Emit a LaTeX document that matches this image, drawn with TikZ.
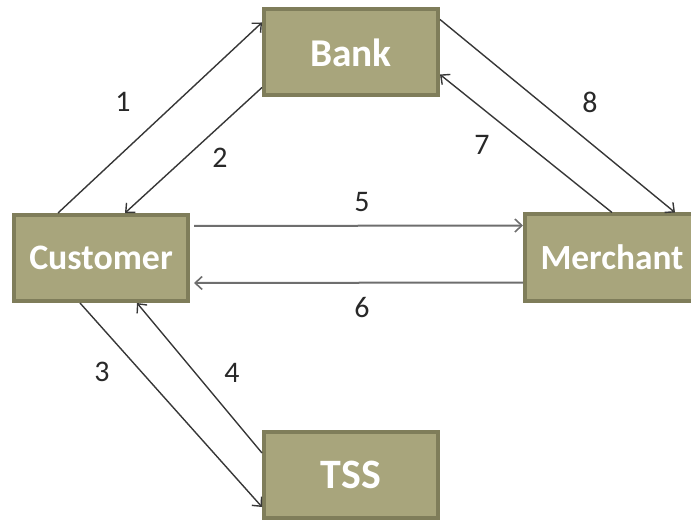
\documentclass[tikz,border=0pt]{standalone}
\usepackage{fontspec}
\setmainfont{Carlito}
\usetikzlibrary{arrows.meta}
\definecolor{boxfill}{RGB}{168,165,124}
\definecolor{boxline}{RGB}{127,125,90}
\definecolor{arrowc}{RGB}{55,55,55}
\definecolor{arrowh}{RGB}{110,110,110}
\definecolor{labc}{RGB}{40,40,40}
\tikzset{
  box/.style={draw=boxline, fill=boxfill, line width=4bp, minimum width=174bp, minimum height=86bp, inner sep=0pt, text=white, font=\bfseries},
  conn/.style={draw=arrowc, line width=1.4bp, -{Straight Barb[length=7bp,width=13bp,line width=1.4bp]}},
  hconn/.style={draw=arrowh, line width=2bp, -{Straight Barb[length=7bp,width=13bp,line width=1.6bp]}},
  lab/.style={text=labc, font=\fontsize{30}{30}\selectfont, inner sep=0pt}
}
\begin{document}
\begin{tikzpicture}[x=1bp,y=-1bp]
\useasboundingbox (0,0) rectangle (691,521);
\clip (0,0) rectangle (691,521);
\node[box, font=\bfseries\fontsize{39.5}{39.5}\selectfont] (bank) at (351,52.5) {Bank};
\node[box, font=\bfseries\fontsize{36}{36}\selectfont] (cust) at (101,258) {Customer};
\node[box, font=\bfseries\fontsize{35.5}{35.5}\selectfont] (merch) at (612,257.5) {Merchant};
\node[box, font=\bfseries\fontsize{42}{42}\selectfont] (tss) at (351,475) {TSS};
% arrows
\draw[conn] ([xshift=46bp]cust.north west) -- ([yshift=-15bp]bank.north west);
\draw[conn] ([yshift=10bp]bank.south west) -- ([xshift=113bp]cust.north west);
\draw[conn] ([yshift=-12bp]bank.north east) -- ([xshift=152bp]merch.north west);
\draw[conn] (merch.north) -- ([yshift=23bp]bank.south east);
\draw[hconn] ([xshift=4bp,yshift=-13bp]cust.north east) -- ([yshift=-13bp]merch.north west);
\draw[hconn] ([yshift=20bp]merch.south west) -- ([xshift=4bp,yshift=20bp]cust.south east);
\draw[conn] ([xshift=68bp]cust.south west) -- ([yshift=13bp]tss.south west);
\draw[conn] ([yshift=-23bp]tss.north west) -- ([xshift=125bp]cust.south west);
% labels
\node[lab] (l1) at (123,102) {1};
\node[lab] (l2) at (220,158) {2};
\node[lab] (l3) at (102,372) {3};
\node[lab] (l4) at (232,373) {4};
\node[lab] (l5) at (362,202) {5};
\node[lab] (l6) at (362,308) {6};
\node[lab] (l7) at (482,145) {7};
\node[lab] (l8) at (590,102) {8};
\end{tikzpicture}
\end{document}
